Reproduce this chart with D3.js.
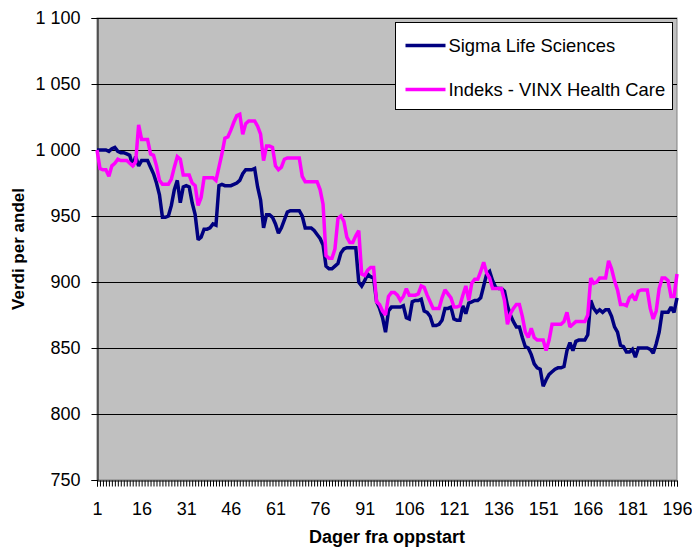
<!DOCTYPE html>
<html>
<head>
<meta charset="utf-8">
<script src="https://cdn.jsdelivr.net/npm/d3@7"></script>
<style>
  body { margin: 0; background: #fff; }
  text { font-family: Arial, "Liberation Sans", sans-serif; }
</style>
</head>
<body>
<div id="chart"></div>
<script>
// series, one value per day (day 1..196)
var sigma = [
  1000,1000,1000,1000,999,1001,1002,999,998,998,
  997,996,988,995,988,992,992,992,987,982,
  975,966,949,949,950,958,970,977,960,972,
  973,972,960,951,932,934,940,940,941,944,
  943,973,974,973,973,973,974,975,977,982,
  985,985,985,986,972,962,941,951,951,949,
  944,937,941,947,953,954,954,954,954,950,
  941,941,941,939,936,933,928,912,910,910,
  912,914,922,925,926,926,926,926,900,897,
  901,906,904,903,885,880,873,862,878,881,
  881,881,881,882,873,872,885,886,886,887,
  878,877,874,867,867,868,871,880,880,881,
  872,871,871,882,876,884,885,886,886,888,
  897,906,908,901,896,895,895,893,882,875,
  870,866,866,858,851,850,845,838,835,834,
  821,826,830,832,834,835,835,836,848,854,
  848,855,856,856,856,860,886,880,877,879,
  877,879,879,874,866,862,852,851,847,847,
  849,843,850,850,850,850,849,846,853,862,
  877,877,877,881,877,888
];

var vinx = [
  1000,986,985,985,980,988,990,993,992,992,
  992,990,988,991,1019,1008,1008,1008,997,996,
  988,977,974,974,974,978,987,995,993,981,
  981,981,975,973,958,964,979,979,979,979,
  977,987,997,1009,1010,1015,1021,1026,1027,1012,
  1020,1022,1022,1022,1018,1012,992,1003,1003,1002,
  988,985,987,993,994,994,994,994,994,980,
  976,976,976,976,976,970,959,920,918,918,
  925,948,950,946,934,930,930,935,939,906,
  905,909,911,911,885,883,878,875,889,892,
  892,890,886,889,895,890,890,890,891,897,
  896,890,885,880,880,880,888,894,891,888,
  881,881,882,890,897,886,899,902,902,908,
  915,907,903,895,895,895,895,886,868,876,
  880,883,883,874,862,858,865,858,856,856,
  856,848,856,868,868,868,868,870,877,866,
  868,870,870,870,870,875,903,899,900,903,
  903,903,916,910,901,894,883,883,882,888,
  890,886,893,894,894,894,880,872,878,895,
  903,903,901,889,889,906
];

var days = d3.range(1, sigma.length + 1);
var xTickLabels = [1, 16, 31, 46, 61, 76, 91, 106, 121, 136, 151, 166, 181, 196];
var yTicks = [750, 800, 850, 900, 950, 1000, 1050, 1100];
var seriesNames = ["Sigma Life Sciences", "Indeks - VINX Health Care"];
var seriesColors = ["#000080", "#FF00FF"];

var svgWidth = 692;
var svgHeight = 547;

var margin = { top: 18, right: 15, bottom: 67, left: 97 };
var chartWidth = svgWidth - margin.left - margin.right;
var chartHeight = svgHeight - margin.top - margin.bottom;

var svg = d3.select("#chart")
  .append("svg")
  .attr("width", svgWidth)
  .attr("height", svgHeight);

var chartGroup = svg.append("g")
  .attr("transform", `translate(${margin.left}, ${margin.top})`);

var xScale = d3.scaleLinear()
  .domain([1, days.length])
  .range([0, chartWidth]);

var yScale = d3.scaleLinear()
  .domain([750, 1100])
  .range([chartHeight, 0]);

var nbFormat = d3.formatLocale({ decimal: ",", thousands: "\u00a0", grouping: [3], currency: ["", ""] }).format(",");

// plot area
chartGroup.append("rect")
  .attr("x", 0)
  .attr("y", 0)
  .attr("width", chartWidth)
  .attr("height", chartHeight)
  .attr("fill", "#C0C0C0")
  .attr("stroke", "#808080")
  .attr("stroke-width", 1);

// gridlines
chartGroup.selectAll(".grid")
  .data(yTicks.slice(1))
  .enter()
  .append("line")
  .attr("class", "grid")
  .attr("x1", 0)
  .attr("x2", chartWidth)
  .attr("y1", d => Math.round(yScale(d)) + 0.5)
  .attr("y2", d => Math.round(yScale(d)) + 0.5)
  .attr("stroke", "#000")
  .attr("stroke-width", 1);

// y axis
var leftAxis = d3.axisLeft(yScale)
  .tickValues(yTicks)
  .tickSize(6)
  .tickPadding(11)
  .tickFormat(nbFormat);

var yAxisG = chartGroup.append("g")
  .attr("transform", "translate(0.5,0)")
  .call(leftAxis);
yAxisG.selectAll("text").attr("font-size", "18px").attr("fill", "#000").attr("font-family", "Arial, 'Liberation Sans', sans-serif");
yAxisG.selectAll("line").attr("stroke", "#000");
yAxisG.select(".domain").attr("stroke", "#000");

// x axis: a tick for every day, labels every 15 days
var minorAxis = d3.axisBottom(xScale)
  .tickValues(days)
  .tickSize(6)
  .tickFormat("");

var xAxisG = chartGroup.append("g")
  .attr("transform", `translate(0, ${chartHeight + 0.5})`)
  .call(minorAxis);
xAxisG.selectAll("line").attr("stroke", "#000");
xAxisG.select(".domain").attr("stroke", "#000");

var botAxis = d3.axisBottom(xScale)
  .tickValues(xTickLabels)
  .tickSize(0)
  .tickPadding(22)
  .tickFormat(d3.format("d"));

var xLabelG = chartGroup.append("g")
  .attr("transform", `translate(0, ${chartHeight})`)
  .call(botAxis);
xLabelG.select(".domain").remove();
xLabelG.selectAll("text").attr("font-size", "18px").attr("fill", "#000").attr("font-family", "Arial, 'Liberation Sans', sans-serif");

// lines
var line = d3.line()
  .x((d, i) => xScale(days[i]))
  .y(d => yScale(d));

[sigma, vinx].forEach((series, i) => {
  chartGroup.append("path")
    .datum(series)
    .attr("d", line)
    .attr("fill", "none")
    .attr("stroke", seriesColors[i])
    .attr("stroke-width", 3.5)
    .attr("stroke-linejoin", "miter")
    .attr("stroke-miterlimit", 2);
});

// axis titles
svg.append("text")
  .attr("transform", `translate(24, ${margin.top + chartHeight / 2}) rotate(-90)`)
  .attr("text-anchor", "middle")
  .attr("font-size", "17px")
  .attr("font-weight", "bold")
  .text("Verdi per andel");

svg.append("text")
  .attr("x", margin.left + chartWidth / 2)
  .attr("y", 543)
  .attr("text-anchor", "middle")
  .attr("font-size", "18px")
  .attr("font-weight", "bold")
  .text("Dager fra oppstart");

// legend
var legend = svg.append("g")
  .attr("transform", "translate(395.5, 22.5)");

legend.append("rect")
  .attr("width", 277)
  .attr("height", 87)
  .attr("fill", "#fff")
  .attr("stroke", "#000");

seriesNames.forEach((name, i) => {
  var ly = 23 + i * 44;
  legend.append("line")
    .attr("x1", 10)
    .attr("x2", 50)
    .attr("y1", ly)
    .attr("y2", ly)
    .attr("stroke", seriesColors[i])
    .attr("stroke-width", 3.5);
  legend.append("text")
    .attr("x", 53)
    .attr("y", ly + 6.5)
    .attr("font-size", "18.4px")
    .text(name);
});
</script>
</body>
</html>
